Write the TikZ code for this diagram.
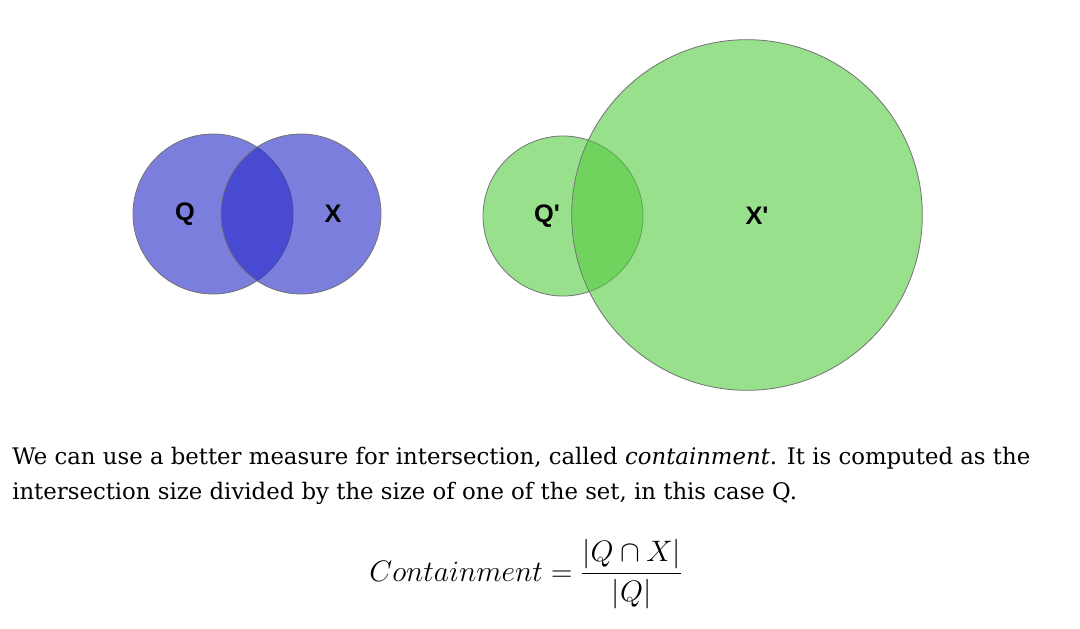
\RequirePackage{fix-cm}
\documentclass[tikz,border=0pt]{standalone}
\usepackage{amsmath,amssymb}
\usepackage{fontspec}
\setmainfont{DejaVu Serif}
\newfontfamily\labelfont{Liberation Sans}
\usetikzlibrary{positioning}

\definecolor{setblue}{RGB}{37,40,200}
\definecolor{setgreen}{RGB}{83,203,63}

\begin{document}
\begin{tikzpicture}[x=0.75pt, y=-0.75pt,
    setcirc/.style={circle, draw=black!55, line width=0.6pt, fill opacity=0.6, inner sep=0pt},
    setlabel/.style={font=\labelfont\bfseries\fontsize{19}{21}\selectfont},
    bodytext/.style={anchor=base west, inner sep=0pt, font=\fontsize{17.1}{21}\selectfont}]
    \useasboundingbox (0,0) rectangle (1080,628);

    % Q and X, same size
    \node[setcirc, fill=setblue, minimum size=120pt] (Q) at (213,214) {};
    \node[setcirc, fill=setblue, minimum size=120pt] (X) at (301,214) {};
    \node[setlabel] (Qlab) at (185,214) {Q};
    \node[setlabel] (Xlab) at (333,214) {X};

    % Q' small, X' large
    \node[setcirc, fill=setgreen, minimum size=120pt] (Qp) at (563,216) {};
    \node[setcirc, fill=setgreen, minimum size=263pt] (Xp) at (747,215) {};
    \node[setlabel] (Qplab) at (547,216) {Q'};
    \node[setlabel] (Xplab) at (757,216) {X'};

    % Text below
    \node[bodytext] (line1) at (12,464) {We can use a better measure for intersection, called \textit{containment}. It is computed as the};
    \node[bodytext] (line2) at (12,499) {intersection size divided by the size of one of the set, in this case Q.};

    \node[font=\fontsize{22.2}{26}\selectfont] (eq) at (526,574) {$Containment = \dfrac{|Q \cap X|}{|Q|}$};
\end{tikzpicture}
\end{document}
